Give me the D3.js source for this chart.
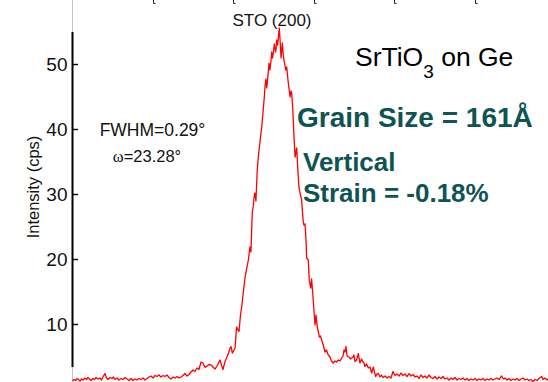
<!DOCTYPE html>
<html>
<head>
<meta charset="utf-8">
<script src="https://cdn.jsdelivr.net/npm/d3@7"></script>
<style>
  html, body { margin: 0; padding: 0; background: #fff; }
  svg { display: block; font-family: "Liberation Sans", Arial, sans-serif; }
</style>
</head>
<body>
<svg id="chart" width="548" height="382"></svg>
<script>
// Omega scan (deg) of the STO (200) reflection and measured intensity (cps)
const omega = [
  22.001, 22.010, 22.019, 22.029, 22.038, 22.047, 22.057, 22.066, 22.078, 22.088,
  22.097, 22.106, 22.116, 22.128, 22.137, 22.147, 22.159, 22.171, 22.181, 22.190,
  22.202, 22.212, 22.221, 22.234, 22.246, 22.255, 22.265, 22.277, 22.289, 22.302,
  22.314, 22.327, 22.339, 22.352, 22.364, 22.376, 22.389, 22.401, 22.414, 22.426,
  22.439, 22.451, 22.463, 22.476, 22.488, 22.501, 22.513, 22.525, 22.538, 22.550,
  22.563, 22.575, 22.588, 22.600, 22.612, 22.625, 22.637, 22.650, 22.662, 22.675,
  22.687, 22.699, 22.712, 22.724, 22.737, 22.749, 22.761, 22.774, 22.786, 22.799,
  22.811, 22.824, 22.836, 22.848, 22.861, 22.873, 22.886, 22.898, 22.911, 22.917,
  22.926, 22.935, 22.948, 22.960, 22.970, 22.979, 22.985, 22.994, 23.004, 23.010,
  23.016, 23.020, 23.029, 23.035, 23.044, 23.053, 23.061, 23.072, 23.081, 23.093,
  23.103, 23.109, 23.117, 23.124, 23.130, 23.134, 23.140, 23.148, 23.156, 23.165,
  23.176, 23.184, 23.192, 23.196, 23.202, 23.207, 23.215, 23.221, 23.227, 23.234,
  23.238, 23.243, 23.248, 23.254, 23.258, 23.263, 23.269, 23.275, 23.280, 23.285,
  23.289, 23.296, 23.304, 23.308, 23.314, 23.321, 23.325, 23.331, 23.336, 23.341,
  23.345, 23.352, 23.358, 23.362, 23.367, 23.372, 23.376, 23.383, 23.393, 23.401,
  23.407, 23.414, 23.424, 23.429, 23.434, 23.438, 23.445, 23.451, 23.455, 23.465,
  23.471, 23.480, 23.486, 23.491, 23.496, 23.501, 23.507, 23.513, 23.521, 23.529,
  23.534, 23.541, 23.548, 23.558, 23.569, 23.578, 23.589, 23.600, 23.609, 23.620,
  23.631, 23.640, 23.652, 23.662, 23.673, 23.681, 23.687, 23.693, 23.699, 23.707,
  23.718, 23.727, 23.735, 23.743, 23.749, 23.755, 23.765, 23.776, 23.780, 23.786,
  23.796, 23.803, 23.811, 23.817, 23.827, 23.838, 23.848, 23.859, 23.869, 23.876,
  23.884, 23.892, 23.900, 23.911, 23.920, 23.929, 23.942, 23.954, 23.966, 23.979,
  23.991, 24.004, 24.016, 24.029, 24.041, 24.053, 24.066, 24.078, 24.091, 24.103,
  24.116, 24.128, 24.140, 24.153, 24.165, 24.178, 24.190, 24.202, 24.215, 24.227,
  24.240, 24.252, 24.265, 24.277, 24.290, 24.302, 24.314, 24.327, 24.339, 24.352,
  24.364, 24.376, 24.389, 24.401, 24.414, 24.426, 24.439, 24.451, 24.463, 24.476,
  24.488, 24.501, 24.513, 24.525, 24.538, 24.550, 24.563, 24.575, 24.588, 24.600,
  24.612, 24.625, 24.637, 24.650, 24.666, 24.678, 24.687, 24.699, 24.712, 24.724,
  24.737, 24.749, 24.761, 24.774, 24.786, 24.799, 24.811, 24.824, 24.836, 24.848,
  24.861, 24.873, 24.886, 24.898, 24.915, 24.923, 24.935, 24.948, 24.957
];
const intensity = [
  1.23, 1.46, 1.31, 1.62, 1.46, 1.23, 1.54, 1.38, 1.69, 1.46,
  1.77, 1.54, 1.31, 1.62, 1.46, 1.77, 1.54, 1.69, 1.38, 1.85,
  2.38, 1.69, 1.46, 1.77, 1.62, 1.85, 1.46, 1.69, 1.38, 1.62,
  1.46, 1.77, 1.54, 1.31, 1.62, 1.31, 1.54, 1.38, 1.62, 1.46,
  1.69, 1.38, 1.62, 1.85, 2.00, 1.69, 2.08, 1.92, 2.15, 1.85,
  2.08, 1.92, 2.15, 1.77, 1.54, 1.85, 1.69, 1.92, 1.69, 1.85,
  2.08, 2.38, 2.00, 2.23, 2.62, 2.92, 2.69, 3.23, 3.00, 4.15,
  4.00, 3.31, 3.54, 3.77, 3.69, 3.38, 3.08, 3.54, 4.15, 4.46,
  3.69, 3.00, 4.23, 4.92, 5.54, 6.31, 6.54, 5.54, 6.00, 6.31,
  8.31, 9.54, 9.08, 8.85, 11.38, 12.92, 14.77, 17.08, 18.31, 19.85,
  21.85, 21.08, 27.08, 28.31, 29.85, 30.15, 28.92, 33.69, 36.00, 38.00,
  40.31, 42.62, 44.92, 46.46, 47.69, 46.31, 48.31, 50.15, 49.08, 50.62,
  51.85, 50.92, 51.69, 53.08, 52.46, 51.85, 53.69, 52.92, 54.31, 55.54,
  54.00, 50.92, 53.23, 51.85, 50.62, 49.69, 49.08, 49.54, 48.31, 47.08,
  46.31, 44.92, 45.85, 45.54, 43.85, 41.38, 39.08, 35.69, 37.08, 33.38,
  31.08, 30.15, 29.08, 27.23, 25.69, 25.23, 25.38, 22.92, 20.15, 19.85,
  16.77, 15.54, 16.92, 15.23, 13.69, 11.85, 9.85, 11.38, 9.54, 8.62,
  8.00, 8.15, 7.54, 6.77, 5.69, 6.00, 5.23, 4.92, 4.31, 4.00,
  4.31, 4.15, 4.46, 4.31, 4.77, 5.08, 6.00, 5.69, 6.54, 5.00,
  4.92, 4.62, 4.77, 4.92, 5.23, 4.23, 4.46, 5.46, 4.77, 4.00,
  4.62, 4.23, 4.00, 3.46, 3.85, 3.23, 3.38, 2.46, 3.38, 2.62,
  1.92, 2.31, 2.38, 1.85, 2.15, 1.77, 2.00, 1.69, 1.92, 1.69,
  2.69, 2.08, 2.31, 2.00, 2.46, 2.08, 2.31, 1.92, 2.38, 2.00,
  2.23, 1.85, 2.00, 1.62, 2.15, 1.77, 2.00, 1.69, 2.15, 1.77,
  1.62, 1.92, 1.54, 1.85, 1.62, 1.92, 1.54, 1.69, 1.38, 1.69,
  1.46, 1.77, 1.38, 1.62, 1.46, 1.69, 1.38, 1.62, 1.31, 1.54,
  1.38, 1.62, 1.31, 1.54, 1.38, 1.62, 1.31, 1.54, 1.38, 1.62,
  1.38, 1.54, 1.69, 1.46, 2.00, 1.54, 1.69, 1.38, 1.62, 1.31,
  1.54, 1.38, 1.62, 1.31, 1.54, 1.69, 1.38, 1.54, 1.31, 1.46,
  1.15, 1.46, 1.31, 1.62, 1.92, 1.46, 1.69, 1.38, 1.54
];
const yTicks = [10, 20, 30, 40, 50];
const topTicks = [22.5, 23.0, 23.5, 24.0, 24.5];

const svg = d3.select("#chart");
const W = 548, H = 382;

const x = d3.scaleLinear().domain([22, 25]).range([72.4, 555.4]);
const y = d3.scaleLinear().domain([0, 60]).range([389, -1]);

// light frame line along the left edge of the plot
svg.append("line")
  .attr("x1", 72.5).attr("x2", 72.5).attr("y1", 0).attr("y2", H)
  .attr("stroke", "#c4c4c4").attr("stroke-width", 1);

// short ticks hanging from the top edge
const tg = svg.append("g");
topTicks.forEach(t => {
  const px = Math.round(x(t)) + 0.5;
  tg.append("path")
    .attr("d", `M${px},0V3.5H${px + 2}`)
    .attr("fill", "none").attr("stroke", "#222").attr("stroke-width", 1);
});

// intensity trace
const line = d3.line()
  .x((d, i) => x(omega[i]))
  .y(d => y(d));
svg.append("path")
  .datum(intensity)
  .attr("d", line)
  .attr("fill", "none")
  .attr("stroke", "#ff0000")
  .attr("stroke-width", 1.3)
  .attr("stroke-linejoin", "round");

// left axis
const yAxis = d3.axisLeft(y).tickValues(yTicks).tickSize(-5.5).tickPadding(5);
const ag = svg.append("g").attr("transform", "translate(72.5,0)").call(yAxis);
ag.select(".domain").remove();
ag.selectAll(".tick line").attr("stroke", "#000").attr("stroke-width", 1.4);
ag.selectAll(".tick text")
  .attr("fill", "#111")
  .style("font-family", '"Liberation Sans", Arial, sans-serif')
  .style("font-size", "19px");
svg.append("line")
  .attr("x1", 72.5).attr("x2", 72.5).attr("y1", 32).attr("y2", 367)
  .attr("stroke", "#000").attr("stroke-width", 2);

svg.append("text")
  .attr("transform", "translate(39,187) rotate(-90)")
  .attr("text-anchor", "middle")
  .attr("fill", "#111")
  .style("font-size", "16.5px")
  .text("Intensity (cps)");

// annotations
svg.append("text")
  .attr("x", 272).attr("y", 26)
  .attr("text-anchor", "middle")
  .attr("fill", "#111")
  .style("font-size", "17px")
  .text("STO (200)");

const title = svg.append("text")
  .attr("x", 355).attr("y", 66)
  .attr("fill", "#000")
  .style("font-size", "26.5px");
title.append("tspan").text("SrTiO");
title.append("tspan").attr("dy", 12).style("font-size", "19px").text("3");
title.append("tspan").attr("dy", -12).text(" on Ge");

svg.append("text")
  .attr("x", 152.5).attr("y", 136)
  .attr("text-anchor", "middle")
  .attr("fill", "#111")
  .style("font-size", "17.5px")
  .text("FWHM=0.29°");
const om = svg.append("text")
  .attr("x", 147).attr("y", 162)
  .attr("text-anchor", "middle")
  .attr("fill", "#111")
  .style("font-size", "16.5px");
om.append("tspan").style("font-family", '"Liberation Serif", serif').text("ω");
om.append("tspan").text("=23.28°");

const teal = "#0f5453";
svg.append("text")
  .attr("x", 297).attr("y", 127)
  .attr("fill", teal)
  .style("font-size", "28px").style("font-weight", "bold")
  .text("Grain Size = 161Å");
svg.append("text")
  .attr("x", 303).attr("y", 171)
  .attr("fill", teal)
  .style("font-size", "26px").style("font-weight", "bold")
  .text("Vertical");
svg.append("text")
  .attr("x", 303).attr("y", 202)
  .attr("fill", teal)
  .style("font-size", "26px").style("font-weight", "bold")
  .text("Strain = -0.18%");
</script>
</body>
</html>
